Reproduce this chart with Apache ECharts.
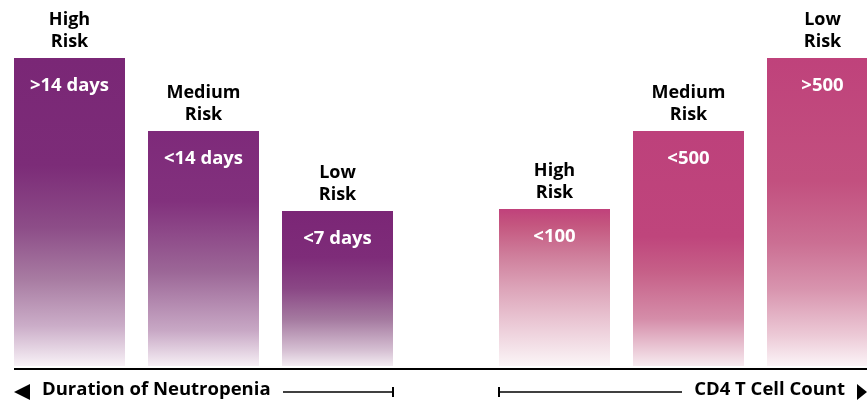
<!DOCTYPE html>
<html>
<head>
<meta charset="utf-8">
<script src="https://cdn.jsdelivr.net/npm/echarts@6/dist/echarts.min.js"></script>
<style>
  html, body { margin: 0; padding: 0; background: #fff; }
  #chart { width: 867px; height: 405px; }
</style>
</head>
<body>
<div id="chart"></div>
<script>
// Risk factors: duration of neutropenia and CD4 T cell count
const neutroCategories = ['>14 days', '<14 days', '<7 days'];
const neutroRisk = ['High\nRisk', 'Medium\nRisk', 'Low\nRisk'];
const neutroValues = [308, 235, 155];

const cd4Categories = ['<100', '<500', '>500'];
const cd4Risk = ['High\nRisk', 'Medium\nRisk', 'Low\nRisk'];
const cd4Values = [157, 235, 308];

const axisTitles = ['Duration of Neutropenia', 'CD4 T Cell Count'];

const FONT = '"Open Sans", "Noto Sans", sans-serif';

function grad(stops) {
  return new echarts.graphic.LinearGradient(0, 0, 0, 1,
    stops.map(s => ({ offset: s[0], color: s[1] })));
}

const neutroFills = [
  grad([[0, '#7a2776'], [0.35, '#7c2c78'], [0.55, '#8d4d88'], [0.72, '#a87ca2'], [0.87, '#cbadc8'], [1, '#f8f2f7']]),
  grad([[0, '#7e2a7a'], [0.3, '#82317d'], [0.6, '#9c6797'], [0.85, '#c8a8c5'], [1, '#f6eff5']]),
  grad([[0, '#7b2676'], [0.3, '#7e2c79'], [0.5, '#8a4785'], [0.7, '#a57aa0'], [0.9, '#d6c0d3'], [1, '#f3ecf2']])
];
const cd4Fills = [
  grad([[0, '#c0417b'], [0.1, '#c4567f'], [0.3, '#cf7f9c'], [0.5, '#dca3b8'], [0.75, '#ecccd8'], [1, '#fbf5f7']]),
  grad([[0, '#bd417b'], [0.45, '#bf457c'], [0.6, '#c66088'], [0.8, '#d58da9'], [1, '#f7ebf0']]),
  grad([[0, '#bf427b'], [0.4, '#c2507f'], [0.6, '#cb6f93'], [0.75, '#d894ae'], [0.9, '#ecc9d6'], [1, '#fbf4f7']])
];

function barSeries(idx, values, fills, cats) {
  return {
    type: 'bar',
    xAxisIndex: idx, yAxisIndex: idx,
    barWidth: 111,
    silent: true,
    data: values.map((v, i) => ({ value: v, itemStyle: { color: fills[i] } })),
    label: {
      show: true,
      position: 'insideTop',
      distance: 18,
      color: '#ffffff',
      fontFamily: FONT,
      fontWeight: 'bold',
      fontSize: 18.5,
      formatter: p => cats[p.dataIndex]
    }
  };
}

function riskSeries(idx, values, risks) {
  return {
    type: 'bar',
    xAxisIndex: idx, yAxisIndex: idx,
    barWidth: 111,
    barGap: '-100%',
    silent: true,
    itemStyle: { color: 'rgba(0,0,0,0)' },
    data: values,
    label: {
      show: true,
      position: 'top',
      distance: 5,
      color: '#000000',
      fontFamily: FONT,
      fontWeight: 'bold',
      fontSize: 18,
      lineHeight: 22,
      align: 'center',
      formatter: p => risks[p.dataIndex]
    }
  };
}

const hiddenY = (gi) => ({ type: 'value', gridIndex: gi, min: 0, max: 308, show: false });
const catX = (gi, data) => ({
  type: 'category', gridIndex: gi, data: data, show: false,
  axisTick: { show: false }, axisLabel: { show: false }
});

const axisY = 369;
const titleY = 392;

const chart = echarts.init(document.getElementById('chart'), null, { renderer: 'canvas' });
chart.setOption({
  animation: false,
  backgroundColor: '#ffffff',
  grid: [
    { left: 2.5, top: 58, width: 402, height: 308, outerBoundsMode: 'none' },
    { left: 487.5, top: 58, width: 402, height: 308, outerBoundsMode: 'none' }
  ],
  xAxis: [catX(0, neutroCategories), catX(1, cd4Categories)],
  yAxis: [hiddenY(0), hiddenY(1)],
  series: [
    barSeries(0, neutroValues, neutroFills, neutroCategories),
    riskSeries(0, neutroValues, neutroRisk),
    barSeries(1, cd4Values, cd4Fills, cd4Categories),
    riskSeries(1, cd4Values, cd4Risk)
  ],
  graphic: [
    // baseline under the bars
    { type: 'line', shape: { x1: 14, y1: axisY, x2: 867, y2: axisY }, style: { stroke: '#000', lineWidth: 2 } },
    // left arrow head
    { type: 'polygon', shape: { points: [[14, titleY], [30, titleY - 8], [30, titleY + 8]] }, style: { fill: '#000' } },
    { type: 'text', left: 42, top: titleY - 12, style: { text: axisTitles[0], fill: '#000', font: 'bold 18.5px ' + FONT } },
    { type: 'line', shape: { x1: 283, y1: titleY, x2: 393, y2: titleY }, style: { stroke: '#000', lineWidth: 1.5 } },
    { type: 'line', shape: { x1: 393, y1: titleY - 5, x2: 393, y2: titleY + 5 }, style: { stroke: '#000', lineWidth: 2 } },
    // right bracket and arrow
    { type: 'line', shape: { x1: 499, y1: titleY - 5, x2: 499, y2: titleY + 5 }, style: { stroke: '#000', lineWidth: 2 } },
    { type: 'line', shape: { x1: 499, y1: titleY, x2: 682, y2: titleY }, style: { stroke: '#000', lineWidth: 1.5 } },
    { type: 'text', right: 22, top: titleY - 12, style: { text: axisTitles[1], fill: '#000', font: 'bold 18.5px ' + FONT } },
    { type: 'polygon', shape: { points: [[867, titleY], [857, titleY - 8], [857, titleY + 8]] }, style: { fill: '#000' } }
  ]
});
</script>
</body>
</html>
